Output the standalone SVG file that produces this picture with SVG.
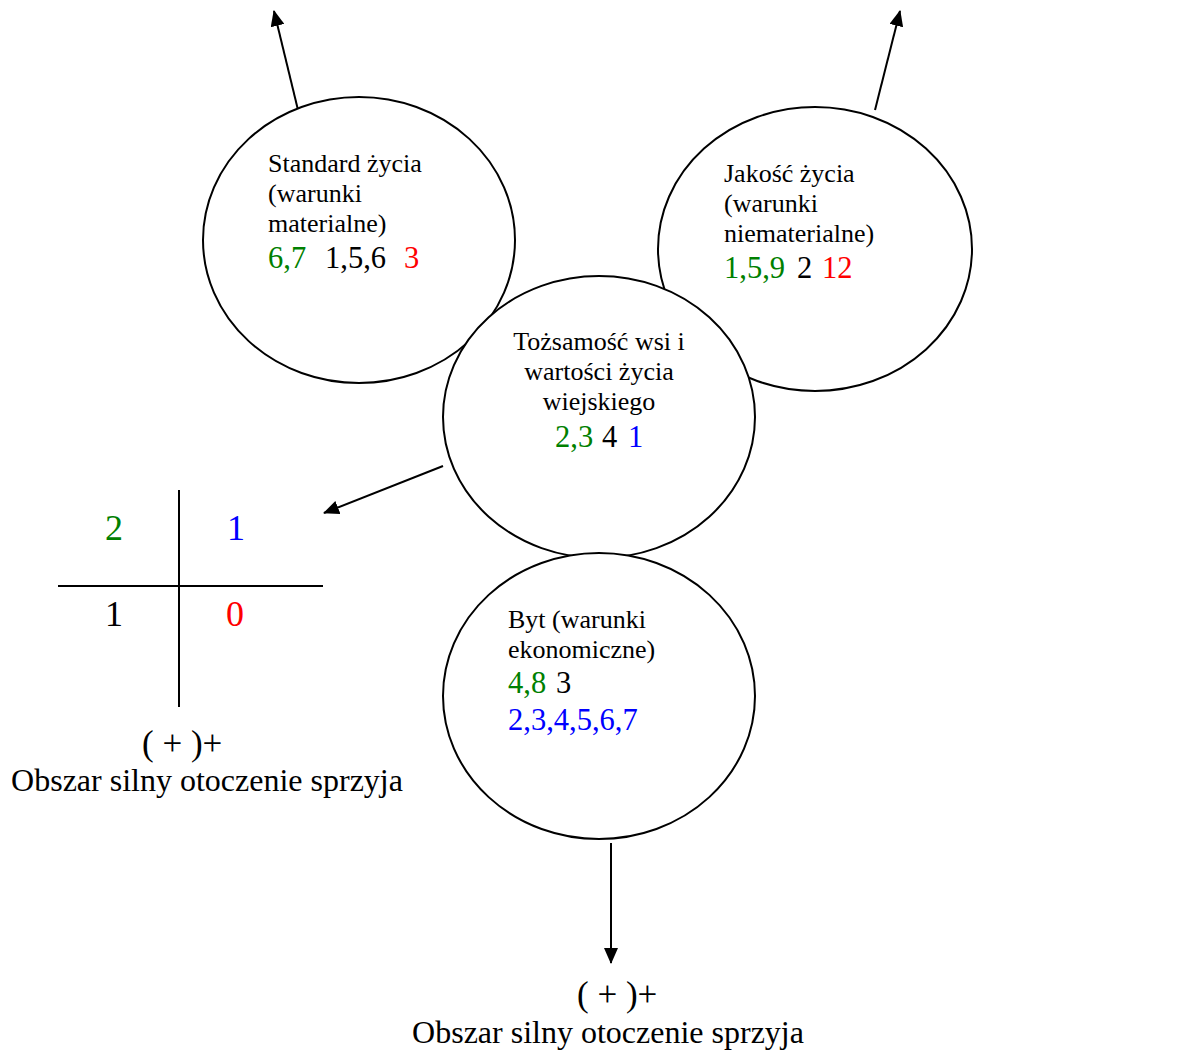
<svg xmlns="http://www.w3.org/2000/svg" width="1192" height="1053" viewBox="0 0 1192 1053">
  <defs>
    <marker id="arrow" markerUnits="userSpaceOnUse" markerWidth="16" markerHeight="14" refX="15" refY="7" orient="auto">
      <path d="M0,0 L16,7 L0,14 Z" fill="#000"/>
    </marker>
  </defs>
  <style>
    .node ellipse { fill: #fff; stroke: #000; stroke-width: 2; }
    .conn line { stroke: #000; stroke-width: 2; marker-end: url(#arrow); }
    text { font-family: "Liberation Serif", "Times New Roman", serif; fill: #000; }
    .t { font-size: 26px; }
    .d { font-size: 30.5px; }
    .q { font-size: 36px; }
    .l { font-size: 32px; }
    .p { font-size: 35px; }
    .g { fill: #008000; }
    .r { fill: #ff0000; }
    .b { fill: #0000ff; }
    .k { fill: #000; }
    .cross line { stroke: #000; stroke-width: 2; }
  </style>
  <rect width="1192" height="1053" fill="#fff"/>

  <g id="connectors" class="conn">
    <line x1="298" y1="110" x2="274" y2="11"/>
    <line x1="875" y1="110" x2="900" y2="11"/>
    <line x1="443" y1="466" x2="324" y2="513"/>
    <line x1="611" y1="843" x2="611" y2="963"/>
  </g>

  <g id="node-standard" class="node">
    <ellipse cx="359" cy="240" rx="156" ry="143"/>
    <text class="t" x="268" y="172">Standard życia</text>
    <text class="t" x="268" y="202">(warunki</text>
    <text class="t" x="268" y="232">materialne)</text>
    <text class="d" y="268"><tspan class="g" x="268">6,7</tspan><tspan class="k" x="325">1,5,6</tspan><tspan class="r" x="404">3</tspan></text>
  </g>

  <g id="node-jakosc" class="node">
    <ellipse cx="815" cy="249" rx="157" ry="142"/>
    <text class="t" x="724" y="182">Jakość życia</text>
    <text class="t" x="724" y="212">(warunki</text>
    <text class="t" x="724" y="242">niematerialne)</text>
    <text class="d" y="278"><tspan class="g" x="724">1,5,9</tspan><tspan class="k" x="797">2</tspan><tspan class="r" x="822">12</tspan></text>
  </g>

  <g id="node-tozsamosc" class="node">
    <ellipse cx="599" cy="417" rx="156" ry="141"/>
    <text class="t" x="599" y="350" text-anchor="middle">Tożsamość wsi i</text>
    <text class="t" x="599" y="380" text-anchor="middle">wartości życia</text>
    <text class="t" x="599" y="410" text-anchor="middle">wiejskiego</text>
    <text class="d" y="447"><tspan class="g" x="555">2,3</tspan><tspan class="k" x="602">4</tspan><tspan class="b" x="628">1</tspan></text>
  </g>

  <g id="node-byt" class="node">
    <ellipse cx="599" cy="696" rx="156" ry="143"/>
    <text class="t" x="508" y="628">Byt (warunki</text>
    <text class="t" x="508" y="658">ekonomiczne)</text>
    <text class="d" y="693"><tspan class="g" x="508">4,8</tspan><tspan class="k" x="556">3</tspan></text>
    <text class="d b" x="508" y="730">2,3,4,5,6,7</text>
  </g>

  <g id="node-quadrant" class="cross">
    <line x1="179" y1="490" x2="179" y2="707"/>
    <line x1="58" y1="586" x2="323" y2="586"/>
    <text class="q g" x="114" y="540" text-anchor="middle">2</text>
    <text class="q b" x="236" y="540" text-anchor="middle">1</text>
    <text class="q k" x="114" y="626" text-anchor="middle">1</text>
    <text class="q r" x="235" y="626" text-anchor="middle">0</text>
  </g>

  <g id="label-left">
    <text class="p" x="142" y="755">( + )+</text>
    <text class="l" x="207" y="791" text-anchor="middle">Obszar silny otoczenie sprzyja</text>
  </g>

  <g id="label-bottom">
    <text class="p" x="577" y="1006">( + )+</text>
    <text class="l" x="608" y="1043" text-anchor="middle">Obszar silny otoczenie sprzyja</text>
  </g>
</svg>
